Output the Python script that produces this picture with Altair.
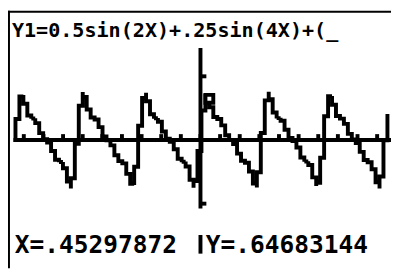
import altair as alt
import pandas as pd

# ---- calculator window / trace data ----
XMIN = -9.42478          # left-most plotted column
DX = 0.2015868           # x step between screen columns
Y_VALUES = [
    0.000, 0.657, 0.708, 0.433, 0.334, 0.340, 0.189, 0.026, -0.001, -0.077,
    -0.271, -0.349, -0.344, -0.545, -0.763, -0.439, 0.322, 0.755, 0.597, 0.359,
    0.345, 0.296, 0.107, 0.003, -0.013, -0.155, -0.326, -0.338, -0.396, -0.668,
    -0.707, -0.135, 0.581, 0.742, 0.474, 0.335, 0.347, 0.224, 0.042, 0.000,
    -0.053, -0.239, -0.349, -0.336, -0.496, -0.751, -0.541, 0.197, 0.728, 0.647,
    0.384, 0.340, 0.319, 0.139, 0.010, -0.006, -0.121, -0.307, -0.343, -0.370,
    -0.620, -0.747, -0.265, 0.486, 0.759, 0.522, 0.339, 0.349, 0.256, 0.065,
    0.000, -0.033, -0.205, -0.343, -0.334, -0.450, -0.724, -0.620, 0.063, 0.684,
    0.691, 0.416, 0.336, 0.334, 0.173, 0.019, -0.002, -0.091, -0.283, -0.348,
    -0.350, -0.569, -0.761, -0.387, 0.379,
]
TRACE_X = 0.45297872
TRACE_Y = 0.64683144
X_TICKS = list(range(-9, 10))
Y_TICKS = [1, -1]
HEADER = "Y1=0.5sin(2X)+.25sin(4X)+(_"
X_LABEL = "X=.45297872"
Y_LABEL = "Y=.64683144"

W, H = 391, 263
XDOM = [-9.805, 9.706]
YDOM = [-2.0154, 2.0308]
xs = alt.Scale(domain=XDOM, nice=False, zero=False)
ys = alt.Scale(domain=YDOM, nice=False, zero=False)

# staircase path like the calculator's connected pixel drawing
cols = [XMIN + i * DX for i in range(len(Y_VALUES))]
pts = []
o = 0
for i in range(len(Y_VALUES) - 1):
    y0, y1 = Y_VALUES[i], Y_VALUES[i + 1]
    mid = (y0 + y1) / 2
    for (px, py) in [(cols[i], y0), (cols[i], mid), (cols[i + 1], mid)]:
        pts.append({"x": px, "y": py, "o": o}); o += 1
pts.append({"x": cols[-1], "y": Y_VALUES[-1], "o": o})
curve_df = pd.DataFrame(pts)

BLACK = "#000000"

xaxis = alt.Chart(pd.DataFrame({"x": [XMIN - DX / 2], "x2": [XDOM[1]], "y": [0]})).mark_rule(
    color=BLACK, strokeWidth=4).encode(
    x=alt.X("x:Q", scale=xs, axis=None), x2="x2:Q", y=alt.Y("y:Q", scale=ys, axis=None))

yaxis = alt.Chart(pd.DataFrame({"x": [0, 0], "y": [1.446, -1.492], "y2": [-1.077, -1.785]})).mark_rule(
    color=BLACK, strokeWidth=4).encode(
    x=alt.X("x:Q", scale=xs, axis=None), y=alt.Y("y:Q", scale=ys, axis=None), y2="y2:Q")

xt = alt.Chart(pd.DataFrame({"x": X_TICKS, "y": [0] * len(X_TICKS), "y2": [0.092] * len(X_TICKS)})).mark_rule(
    color=BLACK, strokeWidth=4).encode(
    x=alt.X("x:Q", scale=xs, axis=None), y=alt.Y("y:Q", scale=ys, axis=None), y2="y2:Q")

yt = alt.Chart(pd.DataFrame({"x": [0] * len(Y_TICKS), "x2": [0.3] * len(Y_TICKS), "y": Y_TICKS})).mark_rule(
    color=BLACK, strokeWidth=4).encode(
    x=alt.X("x:Q", scale=xs, axis=None), x2="x2:Q", y=alt.Y("y:Q", scale=ys, axis=None))

curve = alt.Chart(curve_df).mark_line(
    color=BLACK, strokeWidth=4, strokeCap="square", strokeJoin="miter").encode(
    x=alt.X("x:Q", scale=xs, axis=None), y=alt.Y("y:Q", scale=ys, axis=None), order="o:Q")

cursor = alt.Chart(pd.DataFrame({"x": [TRACE_X], "y": [TRACE_Y]})).mark_square(
    size=64, filled=True, fill="white", stroke=BLACK, strokeWidth=4, opacity=1).encode(
    x=alt.X("x:Q", scale=xs, axis=None), y=alt.Y("y:Q", scale=ys, axis=None))

frame_top = alt.Chart(pd.DataFrame({"a": [0]})).mark_rule(color=BLACK, strokeWidth=2).encode(
    x=alt.value(0), x2=alt.value(W), y=alt.value(1))
frame_left = alt.Chart(pd.DataFrame({"a": [0]})).mark_rule(color=BLACK, strokeWidth=2).encode(
    x=alt.value(1), y=alt.value(0), y2=alt.value(H))

FONT = "DejaVu Sans Mono"
header = alt.Chart(pd.DataFrame({"t": [HEADER]})).mark_text(
    font=FONT, fontSize=20.5, fontWeight="bold", align="left", baseline="alphabetic", color=BLACK).encode(
    x=alt.value(4), y=alt.value(27), text="t:N")
xlab = alt.Chart(pd.DataFrame({"t": [X_LABEL]})).mark_text(
    font=FONT, fontSize=25, fontWeight="bold", align="left", baseline="alphabetic", color=BLACK).encode(
    x=alt.value(7), y=alt.value(247), text="t:N")
ylab = alt.Chart(pd.DataFrame({"t": [Y_LABEL]})).mark_text(
    font=FONT, fontSize=25, fontWeight="bold", align="left", baseline="alphabetic", color=BLACK).encode(
    x=alt.value(202), y=alt.value(247), text="t:N")

chart = alt.layer(
    xaxis, yaxis, xt, yt, curve, cursor, frame_top, frame_left, header, xlab, ylab
).properties(
    width=W, height=H, padding=0, autosize=alt.AutoSizeParams(type="none"), background="white"
).configure_view(stroke=None)

chart.save("out.html", embed_options={"renderer": "svg", "actions": False})
